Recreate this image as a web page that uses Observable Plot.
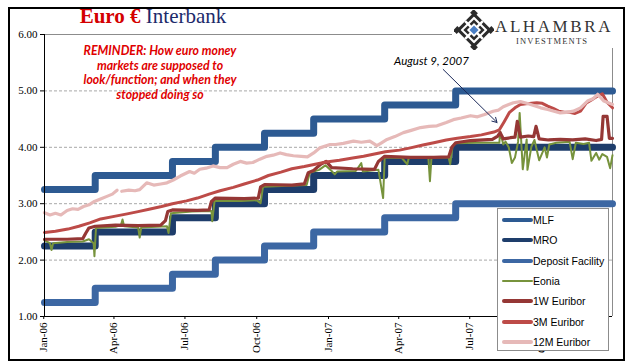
<!DOCTYPE html>
<html>
<head>
<meta charset="utf-8">
<script src="https://cdn.jsdelivr.net/npm/d3@7"></script>
<script src="https://cdn.jsdelivr.net/npm/@observablehq/plot@0.6"></script>
<style>
  html, body { margin:0; padding:0; background:#fff; }
  #wrap { position:relative; width:634px; height:361px; overflow:hidden; }
  #frame { position:absolute; left:8px; top:7px; width:613px; height:350px; border:2px solid #000; pointer-events:none; }
  #title { position:absolute; left:0; width:306px; top:4px; text-align:center; font-family:"Liberation Serif", serif; font-size:21px; white-space:nowrap; }
  #title .r { color:#d40000; font-weight:bold; }
  #title .b { color:#1c2a6b; }
  #remind { position:absolute; left:55px; width:210px; top:44px; text-align:center; color:#e00000; font-family:Lato, sans-serif; font-style:italic; font-weight:bold; font-size:12.3px; line-height:14.5px; }
  #logo { position:absolute; left:452px; top:9px; width:169px; height:39px; background:#fff; }
  #logo .name { position:absolute; left:43px; top:8px; font-family:"Liberation Serif", serif; font-size:17px; letter-spacing:2.6px; color:#333; }
  #logo .sub { position:absolute; left:64px; top:27px; font-family:"Liberation Serif", serif; font-size:8.5px; letter-spacing:1.2px; color:#333; }
  #legend { position:absolute; left:497px; top:208px; width:112px; height:143px; background:#fff; border:1px solid #8c8c8c; box-sizing:border-box; }
  #legend .item { position:absolute; left:4px; height:14px; font-family:"Liberation Sans", Arial, sans-serif; font-size:10.5px; color:#000; white-space:nowrap; }
  #legend .sw { position:absolute; left:0; top:6px; width:31px; border-radius:2px; }
  #legend .lab { position:absolute; left:31px; top:0; line-height:14px; }
</style>
</head>
<body>
<div id="wrap">
  <div id="chart"></div>
  <div id="title"><span class="r">Euro €</span> <span class="b">Interbank</span></div>
  <div id="remind">REMINDER: How euro money<br>markets are supposed to<br>look/function; and when they<br>stopped doing so</div>
  <div id="logo">
    <svg width="40" height="40" style="position:absolute;left:2px;top:1px" viewBox="0 0 40 40">
      <g transform="translate(20,20) rotate(45)">
        <rect x="-12.5" y="-12.5" width="25" height="25" fill="#2b2b2b"/>
        <rect x="-9.5" y="-9.5" width="19" height="19" fill="#fff"/>
        <rect x="-7.5" y="-7.5" width="15" height="15" fill="#2b2b2b"/>
        <rect x="-5" y="-5" width="10" height="10" fill="#fff"/>
        <rect x="-12.5" y="-1.2" width="25" height="2.4" fill="#fff"/>
        <rect x="-1.2" y="-12.5" width="2.4" height="25" fill="#fff"/>
        <rect x="-3.2" y="-3.2" width="6.4" height="6.4" fill="#4a7fc4"/>
      </g>
      <g fill="#2b2b2b">
        <rect x="17" y="0.5" width="6" height="5" transform="rotate(45 20 3)"/>
        <rect x="17" y="34.5" width="6" height="5" transform="rotate(45 20 37)"/>
        <rect x="0.5" y="17" width="5" height="6" transform="rotate(45 3 20)"/>
        <rect x="34.5" y="17" width="5" height="6" transform="rotate(45 37 20)"/>
      </g>
    </svg>
    <div class="name">ALHAMBRA</div>
    <div class="sub">INVESTMENTS</div>
  </div>
  <div id="legend"></div>
  <div id="frame"></div>
</div>
<script>
// ---------- DATA ----------
const policyDates = ["2006-01-02","2006-03-08","2006-06-15","2006-08-09","2006-10-11","2006-12-13","2007-03-14","2007-06-13","2007-12-31"];
const mlfRate     = [3.25, 3.50, 3.75, 4.00, 4.25, 4.50, 4.75, 5.00, 5.00];
const mroRate     = [2.25, 2.50, 2.75, 3.00, 3.25, 3.50, 3.75, 4.00, 4.00];
const depositRate = [1.25, 1.50, 1.75, 2.00, 2.25, 2.50, 2.75, 3.00, 3.00];

const eoniaDates = ["2006-01-02","2006-01-09","2006-01-11","2006-01-13","2006-01-31","2006-02-20","2006-02-28","2006-03-06","2006-03-07","2006-03-09","2006-04-03","2006-04-10","2006-04-12","2006-04-14","2006-05-02","2006-05-04","2006-05-06","2006-06-08","2006-06-10","2006-06-13","2006-07-10","2006-08-04","2006-08-05","2006-08-08","2006-09-11","2006-10-01","2006-10-06","2006-10-09","2006-11-10","2006-12-04","2006-12-08","2006-12-20","2006-12-28","2007-01-05","2007-01-09","2007-01-12","2007-02-05","2007-02-12","2007-02-14","2007-03-06","2007-03-12","2007-03-14","2007-04-05","2007-04-12","2007-04-14","2007-05-09","2007-05-11","2007-05-13","2007-06-04","2007-06-06","2007-06-09","2007-06-13","2007-07-10","2007-08-08","2007-08-09","2007-08-13","2007-08-16","2007-08-20","2007-08-24","2007-08-28","2007-09-01","2007-09-03","2007-09-07","2007-09-12","2007-09-13","2007-09-18","2007-09-22","2007-09-28","2007-10-05","2007-10-08","2007-10-11","2007-10-20","2007-11-06","2007-11-10","2007-11-14","2007-11-24","2007-12-01","2007-12-04","2007-12-10","2007-12-14","2007-12-18","2007-12-24","2007-12-28","2007-12-31"];
const eoniaVals  = [2.35,2.30,2.18,2.30,2.32,2.33,2.37,2.30,2.07,2.57,2.59,2.62,2.72,2.60,2.58,2.40,2.58,2.60,2.48,2.83,2.86,2.87,2.69,3.05,3.05,3.06,3.01,3.30,3.32,3.33,3.55,3.60,3.68,3.58,3.52,3.57,3.58,3.72,3.57,3.60,3.10,3.82,3.81,3.70,3.82,3.82,3.40,3.82,3.82,3.70,4.02,4.07,4.08,4.08,4.28,4.05,4.10,4.00,3.72,3.82,4.10,4.61,3.61,4.14,3.60,4.01,4.13,3.77,4.00,3.82,4.05,4.08,4.10,3.79,4.08,4.06,4.08,3.76,3.90,3.78,3.88,3.83,3.63,3.86];

const w1Dates = ["2006-01-02","2006-01-31","2006-02-20","2006-02-24","2006-02-28","2006-03-08","2006-04-03","2006-05-02","2006-05-31","2006-06-06","2006-06-09","2006-06-15","2006-07-17","2006-08-01","2006-08-04","2006-08-09","2006-09-15","2006-10-03","2006-10-06","2006-10-11","2006-11-15","2006-12-01","2006-12-06","2006-12-13","2006-12-22","2006-12-29","2007-01-05","2007-02-01","2007-03-01","2007-03-06","2007-03-14","2007-04-16","2007-05-16","2007-06-04","2007-06-08","2007-06-13","2007-07-02","2007-07-30","2007-08-06","2007-08-09","2007-08-13","2007-08-22","2007-08-28","2007-08-31","2007-09-04","2007-09-14","2007-09-21","2007-09-24","2007-09-28","2007-10-10","2007-10-25","2007-11-10","2007-11-26","2007-12-10","2007-12-17","2007-12-19","2007-12-24","2007-12-27","2007-12-31"];
const w1Vals  = [2.37,2.37,2.38,2.48,2.57,2.60,2.62,2.61,2.62,2.70,2.86,2.89,2.88,2.89,3.04,3.10,3.09,3.10,3.30,3.34,3.33,3.35,3.55,3.59,3.70,3.75,3.64,3.62,3.61,3.75,3.84,3.82,3.82,3.83,4.00,4.08,4.12,4.14,4.20,4.26,4.15,4.17,4.18,4.46,4.18,4.20,4.19,4.37,4.15,4.13,4.14,4.13,4.15,4.12,4.14,4.55,4.55,4.16,4.16];

const m3Dates = ["2006-01-02","2006-01-16","2006-02-01","2006-02-15","2006-03-01","2006-03-15","2006-04-03","2006-04-18","2006-05-02","2006-05-16","2006-06-01","2006-06-15","2006-07-03","2006-07-17","2006-08-01","2006-08-15","2006-09-01","2006-09-15","2006-10-02","2006-10-16","2006-11-01","2006-11-15","2006-12-01","2006-12-15","2006-12-29","2007-01-15","2007-02-01","2007-02-15","2007-03-01","2007-03-15","2007-04-02","2007-04-16","2007-05-02","2007-05-16","2007-06-01","2007-06-15","2007-07-02","2007-07-16","2007-08-01","2007-08-08","2007-08-14","2007-08-21","2007-08-28","2007-09-04","2007-09-11","2007-09-18","2007-09-25","2007-10-02","2007-10-09","2007-10-16","2007-10-23","2007-10-30","2007-11-06","2007-11-13","2007-11-20","2007-11-27","2007-12-04","2007-12-11","2007-12-18","2007-12-24","2007-12-31"];
const m3Vals  = [2.49,2.51,2.55,2.60,2.66,2.73,2.78,2.82,2.86,2.90,2.95,3.00,3.05,3.10,3.17,3.23,3.29,3.35,3.42,3.50,3.56,3.62,3.66,3.70,3.74,3.77,3.81,3.84,3.88,3.92,3.95,3.99,4.04,4.08,4.13,4.16,4.19,4.22,4.27,4.31,4.45,4.62,4.70,4.76,4.77,4.78,4.79,4.78,4.73,4.69,4.64,4.62,4.62,4.60,4.64,4.78,4.84,4.90,4.95,4.80,4.70];

const m12Dates = ["2006-01-02","2006-01-09","2006-01-16","2006-01-23","2006-01-31","2006-02-07","2006-02-14","2006-02-21","2006-02-28","2006-03-07","2006-03-14","2006-03-23","2006-03-30","2006-04-05","2006-04-07","2006-04-11","2006-04-20","2006-04-28","2006-05-04","2006-05-13","2006-05-22","2006-05-31","2006-06-08","2006-06-16","2006-06-25","2006-07-07","2006-07-13","2006-07-20","2006-07-28","2006-08-06","2006-08-15","2006-08-24","2006-09-01","2006-09-10","2006-09-18","2006-09-26","2006-10-05","2006-10-14","2006-10-22","2006-10-31","2006-11-08","2006-11-17","2006-11-27","2006-12-05","2006-12-13","2006-12-21","2007-01-03","2007-01-10","2007-01-20","2007-02-02","2007-02-12","2007-02-23","2007-03-04","2007-03-10","2007-03-17","2007-03-27","2007-04-07","2007-04-17","2007-04-29","2007-05-10","2007-05-20","2007-06-01","2007-06-10","2007-06-20","2007-07-02","2007-07-11","2007-07-20","2007-07-31","2007-08-07","2007-08-13","2007-08-20","2007-08-26","2007-09-04","2007-09-12","2007-09-21","2007-09-30","2007-10-09","2007-10-17","2007-10-25","2007-11-02","2007-11-11","2007-11-20","2007-11-29","2007-12-06","2007-12-12","2007-12-20","2007-12-31"];
const m12Vals  = [2.84,2.80,2.83,2.80,2.88,2.91,2.90,2.95,2.98,3.04,3.08,3.13,3.17,3.24,null,3.22,3.24,3.23,3.25,3.37,3.33,3.35,3.37,3.42,3.49,3.57,3.54,3.61,3.63,3.67,3.64,3.64,3.70,3.75,3.72,3.73,3.79,3.84,3.86,3.90,3.87,3.85,3.84,3.83,3.90,3.99,4.05,4.05,4.07,4.11,4.09,4.11,4.03,4.08,4.14,4.19,4.26,4.30,4.35,4.37,4.38,4.44,4.49,4.52,4.56,4.54,4.58,4.64,4.66,4.72,4.76,4.79,4.81,4.78,4.74,4.70,4.67,4.64,4.61,4.62,4.64,4.70,4.82,4.86,4.94,4.82,4.76];

const xTicks = ["2006-01-01","2006-04-01","2006-07-01","2006-10-01","2007-01-01","2007-04-01","2007-07-01","2007-10-01"];
const yTicks = [1, 2, 3, 4, 5, 6];
const gridValues = [2, 3, 4, 5];

const seriesNames  = ["MLF","MRO","Deposit Facility","Eonia","1W Euribor","3M Euribor","12M Euribor"];
const seriesColors = ["#2d5a92","#1e3d6b","#3c67a3","#77933c","#953735","#bd4b48","#e6b9b8"];

const noteLabel = ["August 9, 2007"];
const noteTextAt = [{date:"2007-05-13", value:5.53}];
const noteArrow = [{fromDate:"2007-05-28", fromValue:5.38, toDate:"2007-08-05", toValue:4.44}];

// ---------- BUILD ----------
const parse = d3.utcParse("%Y-%m-%d");
const rows = (name, dates, vals) => dates.map((d,i) => ({series:name, date:parse(d), value:vals[i]}));
const mlf = rows("MLF", policyDates, mlfRate);
const mro = rows("MRO", policyDates, mroRate);
const dep = rows("Deposit Facility", policyDates, depositRate);
const eonia = rows("Eonia", eoniaDates, eoniaVals);
const w1 = rows("1W Euribor", w1Dates, w1Vals);
const m3 = rows("3M Euribor", m3Dates, m3Vals);
const m12 = rows("12M Euribor", m12Dates, m12Vals);
const col = Object.fromEntries(seriesNames.map((n,i)=>[n, seriesColors[i]]));
const xDomain = [parse("2006-01-02"), parse("2007-12-31")];
const fmt = d3.utcFormat("%b-%y");

const chart = Plot.plot({
  width: 634, height: 361,
  marginLeft: 44, marginRight: 22, marginTop: 34, marginBottom: 45,
  style: {fontFamily: "'Liberation Serif', serif", fontSize: "11px", color: "#000", background: "transparent"},
  x: {type: "utc", domain: xDomain},
  y: {domain: [1, 6]},
  marks: [
    Plot.ruleY(gridValues, {stroke: "#a8a8a8", strokeDasharray: "3,2", strokeWidth: 1}),
    Plot.ruleY([6], {stroke: "#8c8c8c", strokeWidth: 1}),
    Plot.ruleX([xDomain[1]], {stroke: "#8c8c8c", strokeWidth: 1}),
    Plot.line(mlf, {x:"date", y:"value", curve:"step-after", stroke: col["MLF"], strokeWidth: 7, strokeLinejoin:"round", strokeLinecap:"round"}),
    Plot.line(mro, {x:"date", y:"value", curve:"step-after", stroke: col["MRO"], strokeWidth: 7, strokeLinejoin:"round", strokeLinecap:"round"}),
    Plot.line(dep, {x:"date", y:"value", curve:"step-after", stroke: col["Deposit Facility"], strokeWidth: 7, strokeLinejoin:"round", strokeLinecap:"round"}),
    Plot.line(eonia, {x:"date", y:"value", stroke: col["Eonia"], strokeWidth: 2, strokeLinejoin:"round"}),
    Plot.line(w1, {x:"date", y:"value", stroke: col["1W Euribor"], strokeWidth: 3.2, strokeLinejoin:"round"}),
    Plot.line(m3, {x:"date", y:"value", stroke: col["3M Euribor"], strokeWidth: 3, strokeLinejoin:"round"}),
    Plot.line(m12, {x:"date", y:"value", stroke: col["12M Euribor"], strokeWidth: 3.2, strokeLinejoin:"round"}),
    Plot.arrow(noteArrow, {x1: d=>parse(d.fromDate), y1:"fromValue", x2: d=>parse(d.toDate), y2:"toValue", stroke:"#1c2a5a", strokeWidth:1, headLength:8, bend:0}),
    Plot.text(noteTextAt, {x: d=>parse(d.date), y:"value", text: (d,i)=>noteLabel[i], fontFamily:"Lato, sans-serif", fontStyle:"italic", fontSize: 11.5, fill:"#000"}),
    Plot.ruleY([1], {stroke: "#000", strokeWidth: 1}),
    Plot.ruleX([xDomain[0]], {stroke: "#000", strokeWidth: 1}),
    Plot.axisY({ticks: yTicks, tickFormat: d3.format(".2f"), tickSize: 4, tickPadding: 3, fontSize: 11}),
    Plot.axisX({ticks: xTicks.map(parse), tickFormat: fmt, tickRotate: -90, tickSize: 3, tickPadding: 3, fontSize: 11})
  ]
});
document.getElementById("chart").appendChild(chart);

// legend
const leg = document.getElementById("legend");
const legWidths = [4, 4, 4, 2, 4, 4, 4];
seriesNames.forEach((n, i) => {
  const it = document.createElement("div");
  it.className = "item";
  it.style.top = (4 + i * 20.3) + "px";
  const sw = document.createElement("div");
  sw.className = "sw";
  sw.style.height = legWidths[i] + "px";
  sw.style.marginTop = (-legWidths[i]/2 + 1) + "px";
  sw.style.background = seriesColors[i];
  const lb = document.createElement("div");
  lb.className = "lab";
  lb.textContent = n;
  it.appendChild(sw); it.appendChild(lb);
  leg.appendChild(it);
});
</script>
</body>
</html>
